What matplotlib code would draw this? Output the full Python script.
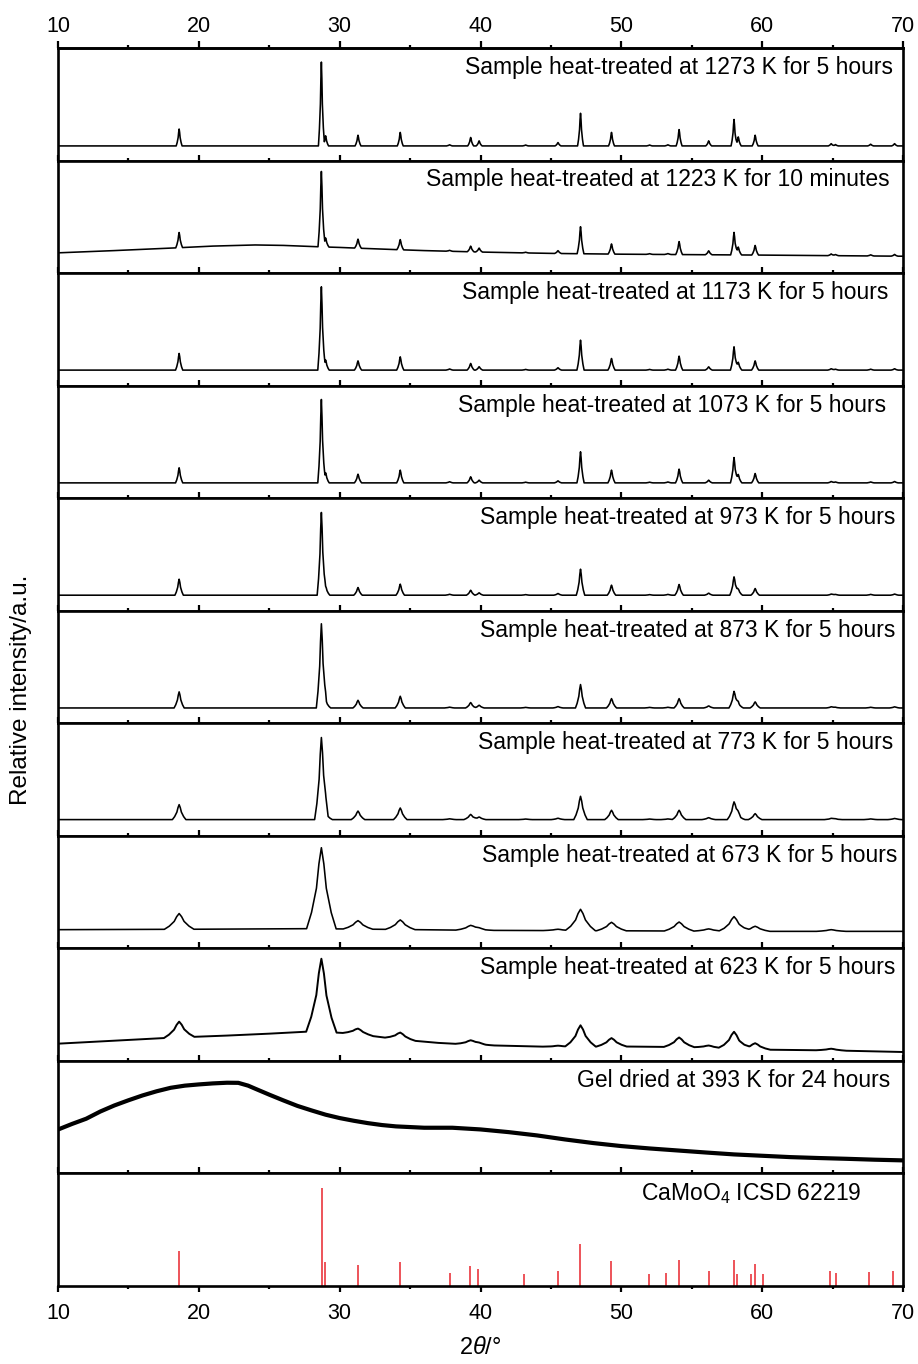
import numpy as np
import matplotlib
matplotlib.use("Agg")
import matplotlib.pyplot as plt
from matplotlib.ticker import FixedLocator

plt.rcParams['font.family'] = ['Liberation Sans', 'DejaVu Sans']
plt.rcParams['mathtext.fontset'] = 'custom'
plt.rcParams['mathtext.rm'] = 'Liberation Sans'
plt.rcParams['mathtext.it'] = 'Liberation Sans:italic'

# ---------------- data ----------------
labels = [
    "Sample heat-treated at 1273 K for 5 hours",
    "Sample heat-treated at 1223 K for 10 minutes",
    "Sample heat-treated at 1173 K for 5 hours",
    "Sample heat-treated at 1073 K for 5 hours",
    "Sample heat-treated at 973 K for 5 hours",
    "Sample heat-treated at 873 K for 5 hours",
    "Sample heat-treated at 773 K for 5 hours",
    "Sample heat-treated at 673 K for 5 hours",
    "Sample heat-treated at 623 K for 5 hours",
    "Gel dried at 393 K for 24 hours",
    "CaMoO$_4$ ICSD 62219",
]

# peak positions (2theta, deg)
peak_pos = [18.6, 28.7, 29.0, 31.3, 34.3, 37.8, 39.3, 39.9, 43.2, 45.5, 47.1,
            49.3, 52.0, 53.3, 54.1, 56.2, 58.0, 58.3, 59.5, 64.9, 65.2, 67.7, 69.4]

# apparent peak heights above background (relative units)
h_1273 = [0.150, 0.745, 0.090, 0.095, 0.120, 0.010, 0.075, 0.045, 0.008, 0.030, 0.290,
          0.120, 0.008, 0.010, 0.145, 0.045, 0.235, 0.080, 0.095, 0.020, 0.012, 0.015, 0.020]
h_1223 = [0.135, 0.670, 0.080, 0.080, 0.090, 0.008, 0.050, 0.035, 0.006, 0.025, 0.240,
          0.090, 0.006, 0.008, 0.115, 0.035, 0.200, 0.070, 0.085, 0.015, 0.010, 0.010, 0.015]
h_1173 = [0.148, 0.740, 0.090, 0.082, 0.118, 0.010, 0.059, 0.030, 0.006, 0.021, 0.266,
          0.103, 0.006, 0.008, 0.124, 0.029, 0.207, 0.070, 0.082, 0.012, 0.008, 0.008, 0.012]
h_1073 = [0.134, 0.741, 0.090, 0.077, 0.113, 0.010, 0.054, 0.024, 0.006, 0.018, 0.276,
          0.113, 0.006, 0.008, 0.122, 0.024, 0.225, 0.075, 0.083, 0.012, 0.008, 0.008, 0.012]
h_973 = [0.142, 0.735, 0.080, 0.068, 0.098, 0.008, 0.044, 0.021, 0.005, 0.015, 0.231,
         0.089, 0.005, 0.007, 0.095, 0.018, 0.163, 0.055, 0.059, 0.010, 0.007, 0.007, 0.010]
h_873 = [0.143, 0.741, 0.070, 0.068, 0.104, 0.007, 0.048, 0.024, 0.005, 0.012, 0.208,
         0.083, 0.005, 0.006, 0.083, 0.018, 0.143, 0.045, 0.054, 0.010, 0.006, 0.006, 0.010]
h_773 = [0.133, 0.715, 0.060, 0.076, 0.103, 0.007, 0.046, 0.023, 0.005, 0.012, 0.207,
         0.083, 0.005, 0.006, 0.083, 0.017, 0.148, 0.040, 0.053, 0.010, 0.006, 0.006, 0.010]
h_673 = [0.140, 0.720, 0.000, 0.075, 0.085, 0.000, 0.040, 0.012, 0.000, 0.012, 0.190,
         0.075, 0.000, 0.000, 0.080, 0.020, 0.130, 0.000, 0.045, 0.015, 0.000, 0.000, 0.000]
h_623 = [0.140, 0.650, 0.000, 0.050, 0.060, 0.000, 0.035, 0.012, 0.000, 0.010, 0.190,
         0.075, 0.000, 0.000, 0.085, 0.020, 0.150, 0.000, 0.055, 0.015, 0.000, 0.000, 0.000]

# peak full width at half maximum per sample (deg)
fwhm = [0.14, 0.16, 0.17, 0.17, 0.20, 0.24, 0.32, 0.70, 0.72]

# background vertices (2theta, level)
bg_1273 = ([10, 70], [0.130, 0.130])
bg_1223 = ([10, 14, 18, 21, 24, 26, 28, 30, 33, 36, 40, 45, 50, 60, 70],
           [0.180, 0.200, 0.222, 0.240, 0.250, 0.246, 0.236, 0.228, 0.213, 0.200,
            0.187, 0.175, 0.168, 0.160, 0.150])
bg_1173 = ([10, 70], [0.138, 0.138])
bg_1073 = ([10, 70], [0.136, 0.136])
bg_973 = ([10, 70], [0.138, 0.138])
bg_873 = ([10, 70], [0.136, 0.136])
bg_773 = ([10, 70], [0.144, 0.144])
bg_673 = ([10, 20, 28, 34, 40, 50, 60, 70],
          [0.166, 0.170, 0.175, 0.168, 0.160, 0.156, 0.151, 0.151])
bg_623 = ([10, 14, 18, 22, 25, 27, 28, 30, 31, 33, 35, 37, 40, 45, 50, 55, 60, 65, 70],
          [0.153, 0.180, 0.206, 0.225, 0.242, 0.255, 0.262, 0.250, 0.242, 0.210, 0.182,
           0.160, 0.140, 0.125, 0.128, 0.122, 0.100, 0.093, 0.079])

heights = [h_1273, h_1223, h_1173, h_1073, h_973, h_873, h_773, h_673, h_623]
backgrounds = [bg_1273, bg_1223, bg_1173, bg_1073, bg_973, bg_873, bg_773, bg_673, bg_623]

# amorphous gel trace
gel_x = [10, 11, 12, 13, 14, 15, 16, 17, 18, 19, 20, 21, 22, 22.8, 23.5, 24, 25, 26, 27, 28,
         29, 30, 31, 32, 33, 34, 36, 38, 40, 42, 44, 46, 48, 50, 52, 54, 56, 58, 60, 62,
         64, 66, 68, 70]
gel_y = [0.390, 0.440, 0.486, 0.550, 0.604, 0.650, 0.693, 0.730, 0.761, 0.780, 0.791, 0.800,
         0.806, 0.805, 0.780, 0.753, 0.700, 0.649, 0.600, 0.560, 0.522, 0.492, 0.468, 0.447,
         0.430, 0.418, 0.406, 0.406, 0.391, 0.367, 0.338, 0.302, 0.270, 0.243, 0.222, 0.204,
         0.186, 0.169, 0.157, 0.145, 0.137, 0.130, 0.122, 0.116]

# reference stick pattern (ICSD 62219), relative intensity %
ref_pos = [18.58, 28.71, 28.99, 31.29, 34.27, 37.80, 39.28, 39.79, 43.09, 45.51, 47.06,
           49.29, 51.99, 53.14, 54.09, 56.24, 58.02, 58.22, 59.18, 59.49, 60.09, 64.82,
           65.21, 67.56, 69.31]
ref_int = [35.5, 100.0, 24.0, 21.3, 24.4, 13.5, 20.3, 17.2, 12.5, 15.6, 42.6,
           25.0, 12.1, 13.2, 26.3, 15.2, 26.7, 12.5, 12.5, 22.0, 12.1, 14.9,
           13.5, 14.2, 14.9]

x_ticks = [10, 20, 30, 40, 50, 60, 70]
x_minor = [15, 25, 35, 45, 55, 65]

# peak outline (in units of half width at half maximum / fraction of height)
SHAPE_DX = np.array([-3.0, -2.0, -1.0, -0.5, 0.0, 0.5, 1.0, 2.0, 3.0])
SHAPE_DY = np.array([0.0, 0.2, 0.5, 0.8, 1.0, 0.8, 0.5, 0.2, 0.0])


def trace(pos, hts, fw, bg):
    """Polyline vertices: background vertices plus the outline vertices of every peak."""
    dx = SHAPE_DX * fw / 2
    xs = list(bg[0])
    for p, h in zip(pos, hts):
        if h > 0:
            xs.extend(p + dx)
    xs = np.unique(np.clip(xs, 10, 70))
    ys = np.interp(xs, bg[0], bg[1])
    for p, h in zip(pos, hts):
        if h > 0:
            ys = ys + h * np.interp(xs, p + dx, SHAPE_DY)
    return xs, ys


def set_ticks(axis_obj):
    axis_obj.set_major_locator(FixedLocator(x_ticks))
    axis_obj.set_minor_locator(FixedLocator(x_minor))


# ---------------- figure ----------------
fig = plt.figure(figsize=(9.18, 13.64), dpi=100)
axes = fig.subplots(11, 1, sharex=True, gridspec_kw=dict(hspace=0))
fig.subplots_adjust(left=0.0632, right=0.9837, top=0.9648, bottom=0.0572)

label_x = [0.988, 0.984, 0.983, 0.980, 0.991, 0.991, 0.988, 0.993, 0.991, 0.985, 0.951]

for i, ax in enumerate(axes):
    if i < 9:
        xs, ys = trace(peak_pos, heights[i], fwhm[i], backgrounds[i])
        ax.plot(xs, ys, color='black', lw=1.4 if i == 8 else 1.15)
        ax.set_ylim(0, 1)
    elif i == 9:
        ax.plot(gel_x, gel_y, color='black', lw=3.0)
        ax.set_ylim(0, 1)
    else:
        ax.vlines(ref_pos, 0, ref_int, colors='#e8242c', lw=1.1)
        ax.set_ylim(0, 114.5)

    ax.set_xlim(10, 70)
    ax.set_yticks([])
    for s in ax.spines.values():
        s.set_linewidth(1.9)
    set_ticks(ax.xaxis)

    if i < 10:
        ax.tick_params(axis='x', which='both', top=False, bottom=True, labelbottom=False,
                       direction='in', width=1.6)
        ax.tick_params(axis='x', which='major', length=4)
        ax.tick_params(axis='x', which='minor', length=2)
    else:
        ax.tick_params(axis='x', which='both', top=False, bottom=True, labelbottom=True,
                       direction='out', width=1.6)
        ax.tick_params(axis='x', which='major', length=4.5, labelsize=15.5, pad=8)
        ax.tick_params(axis='x', which='minor', length=2.5)
        ax.set_xlabel(r'2$\mathit{\theta}$/°', fontsize=17, labelpad=9)

    if i == 0:
        sec = ax.secondary_xaxis('top')
        set_ticks(sec.xaxis)
        sec.tick_params(axis='x', which='major', direction='out', length=5, width=1.6,
                        labelsize=15.5, pad=3)
        sec.tick_params(axis='x', which='minor', direction='out', length=2.5, width=1.6)
        sec.spines['top'].set_linewidth(1.9)

    ax.text(label_x[i], 0.93, labels[i], transform=ax.transAxes,
            ha='right', va='top', fontsize=16.5)

fig.text(0.0229, 0.494, 'Relative intensity/a.u.', rotation=90,
         ha='center', va='center', fontsize=17.5)

fig.savefig('out.png', dpi=100)
